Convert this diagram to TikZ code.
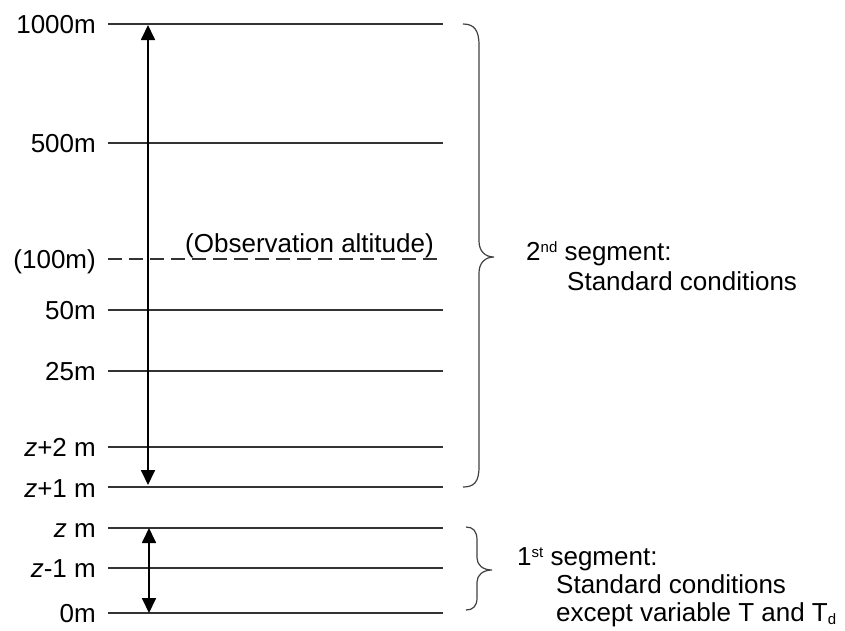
\documentclass[tikz,border=0pt]{standalone}
\usepackage{fontspec}
\setmainfont{Liberation Sans}
\usetikzlibrary{arrows.meta}
\begin{document}
\begin{tikzpicture}[x=1pt,y=-1pt,
  lvl/.style={line width=1.3pt, draw=black!80},
  dlvl/.style={line width=1.3pt, draw=black!80, dash pattern=on 14pt off 7pt},
  lab/.style={anchor=base east, inner sep=0pt, font=\fontsize{26}{31}\selectfont},
  txt/.style={anchor=base west, inner sep=0pt, font=\fontsize{26}{31}\selectfont},
  arr/.style={line width=1.8pt, {Triangle[width=14pt,length=15pt]}-{Triangle[width=14pt,length=15pt]}},
  brc/.style={line width=1.2pt, draw=black!75}]
\useasboundingbox (0,0) rectangle (845,630);
% levels
\foreach \nm/\yy in {k/24, h/143, d/310, q/371, zb/447, za/487, z/528, zm/568, o/613}{
  \coordinate (L\nm) at (108,\yy);
  \coordinate (R\nm) at (443,\yy);
  \draw[lvl] (L\nm) -- (R\nm);
}
\coordinate (Lc) at (108,259);
\coordinate (Rc) at (443,259);
\draw[dlvl] (Lc) -- (Rc);
% labels
\node[lab] (tk) at (96,33) {1000m};
\node[lab] (th) at (96,152) {500m};
\node[lab] (tc) at (96,268) {(100m)};
\node[lab] (td) at (96,319) {50m};
\node[lab] (tq) at (96,380) {25m};
\node[lab] (tzb) at (96,456) {\textit{z}+2 m};
\node[lab] (tza) at (96,497) {\textit{z}+1 m};
\node[lab] (tz) at (96,537) {\textit{z} m};
\node[lab] (tzm) at (96,577) {\textit{z}-1 m};
\node[lab] (to) at (96,622) {0m};
\node[anchor=base east, inner sep=0pt, font=\fontsize{26}{31}\selectfont] (obs) at (434,252) {(Observation altitude)};
% arrows
\coordinate (A1) at (148,25);
\coordinate (A2) at (148,485);
\draw[arr] (A2) -- (A1);
\coordinate (B1) at (149,528);
\coordinate (B2) at (149,613);
\draw[arr] (B2) -- (B1);
% upper brace
\draw[brc] (463,24) .. controls (474,24) and (479,30) .. (479,45) -- (479,241)
  .. controls (479,251) and (485,257) .. (494,257)
  .. controls (485,257) and (479,263) .. (479,273) -- (479,467)
  .. controls (479,482) and (474,487) .. (463,487);
% lower brace
\draw[brc] (466,527) .. controls (473,527) and (477,531) .. (477,540) -- (477,558)
  .. controls (477,565) and (483,570) .. (492,570)
  .. controls (483,570) and (477,575) .. (477,582) -- (477,598)
  .. controls (477,606) and (473,610) .. (466,610);
% texts
\node[txt] (s2a) at (526,260) {2\raisebox{7.5pt}{\fontsize{15}{15}\selectfont nd} segment:};
\node[txt] (s2b) at (567,290) {Standard conditions};
\node[txt] (s1a) at (517,565) {1\raisebox{7.5pt}{\fontsize{15}{15}\selectfont st} segment:};
\node[txt] (s1b) at (556,593) {Standard conditions};
\node[txt] (s1c) at (556,621) {except variable T and T\raisebox{-3pt}{\fontsize{15}{15}\selectfont d}};
\end{tikzpicture}
\end{document}
